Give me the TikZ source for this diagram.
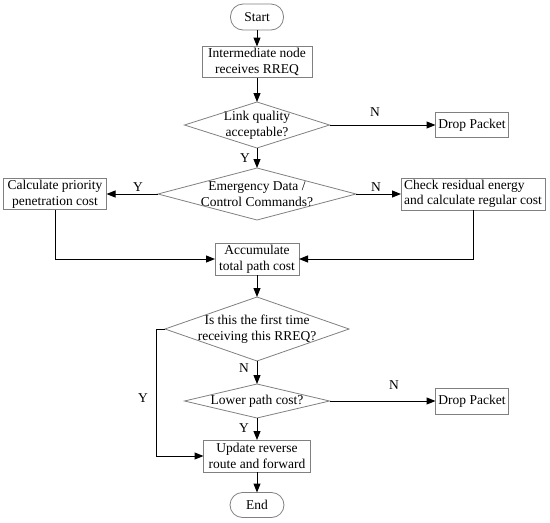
\documentclass[tikz,border=0pt]{standalone}
\usepackage{fontspec}
\setmainfont{Liberation Serif}
\usetikzlibrary{arrows.meta}

\begin{document}
\begin{tikzpicture}[x=1pt, y=-1pt,
  txt/.style={font=\fontsize{13.5}{15.5}\selectfont},
  box/.style={txt, draw=gray, line width=0.8pt, rectangle, align=center, inner sep=1.5pt, outer sep=0pt},
  term/.style={box, rounded corners=12.5pt},
  test/.style={txt, rectangle, align=center, inner sep=0pt, outer sep=0pt},
  rim/.style={gray, line width=0.8pt},
  flow/.style={black, line width=1pt, -{Triangle[length=9pt, width=7pt]}},
  yn/.style={txt, inner sep=0pt}]
  \useasboundingbox (0,0) rectangle (550,523);
  % nodes
  \node[term, minimum width=53, minimum height=26] (start) at (257,17) {Start};
  \node[box, minimum width=110, minimum height=31] (recv) at (257,62) {Intermediate node\\receives RREQ};
  \node[test, minimum width=145, minimum height=46] (link) at (257,125) {Link quality\\acceptable?};
  \node[box, minimum width=73, minimum height=25] (drop1) at (472,125) {Drop Packet};
  \node[test, minimum width=198, minimum height=52] (emerg) at (257,194) {Emergency Data /\\Control Commands?};
  \node[box, minimum width=103, minimum height=31] (prio) at (55,194) {Calculate priority\\penetration cost};
  \node[box, minimum width=144, minimum height=32, align=left] (check) at (473,194) {Check residual energy\\and calculate regular cost};
  \node[box, minimum width=84, minimum height=32] (accum) at (257,259) {Accumulate\\total path cost};
  \node[test, minimum width=184, minimum height=64] (first) at (257,329) {Is this the first time\\receiving this RREQ?};
  \node[test, minimum width=145, minimum height=34] (lower) at (257,401) {Lower path cost?};
  \node[box, minimum width=73, minimum height=26] (drop2) at (472,401) {Drop Packet};
  \node[box, minimum width=107, minimum height=32] (update) at (257,456) {Update reverse\\route and forward};
  \node[term, minimum width=54, minimum height=25] (end) at (257,505) {End};
  % diamonds
  \draw[rim] (link.north) -- (link.east) -- (link.south) -- (link.west) -- cycle;
  \draw[rim] (emerg.north) -- (emerg.east) -- (emerg.south) -- (emerg.west) -- cycle;
  \draw[rim] (first.north) -- (first.east) -- (first.south) -- (first.west) -- cycle;
  \draw[rim] (lower.north) -- (lower.east) -- (lower.south) -- (lower.west) -- cycle;
  % connectors
  \draw[flow] (start) -- (recv);
  \draw[flow] (recv) -- (link.north);
  \draw[flow] (link.east) -- (drop1);
  \draw[flow] (link.south) -- (emerg.north);
  \draw[flow] (emerg.west) -- (prio);
  \draw[flow] (emerg.east) -- (check);
  \draw[flow] (prio.south) |- (accum.west);
  \draw[flow] (check.south) |- (accum.east);
  \draw[flow] (accum) -- (first.north);
  \draw[flow] (first.south) -- (lower.north);
  \draw[flow] (lower.east) -- (drop2);
  \draw[flow] (lower.south) -- (update);
  \draw[flow] (first.west) -- ++(-9,0) |- (update.west);
  \draw[flow] (update) -- (end);
  % labels
  \node[yn] (n1) at (375,112) {N};
  \node[yn] (y1) at (245,158) {Y};
  \node[yn] (y2) at (138,187) {Y};
  \node[yn] (n2) at (376,187) {N};
  \node[yn] (n3) at (244,368) {N};
  \node[yn] (n4) at (394,385) {N};
  \node[yn] (y3) at (244,428) {Y};
  \node[yn] (y4) at (143,398) {Y};
\end{tikzpicture}
\end{document}
